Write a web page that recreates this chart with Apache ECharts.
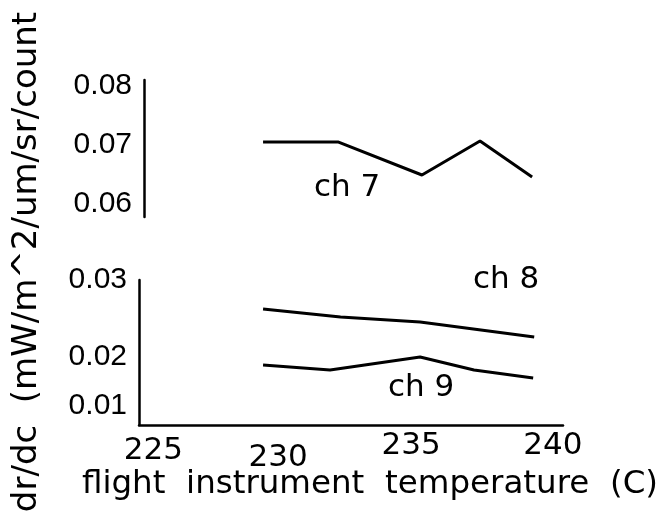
<!DOCTYPE html>
<html>
<head>
<meta charset="utf-8">
<script src="https://cdn.jsdelivr.net/npm/echarts@6/dist/echarts.min.js"></script>
<style>
html, body { margin: 0; padding: 0; background: #fff; }
#chart { width: 661px; height: 518px; }
</style>
</head>
<body>
<div id="chart"></div>
<script>
// temperatures (C) and responsivity per channel
const ch7_temp = [229.04, 231.9, 235.11, 237.33, 239.32];
const ch7_val = [0.0704, 0.0704, 0.0648, 0.07056, 0.06446];
const ch8_temp = [229.04, 232.0, 235.04, 239.4];
const ch8_val = [0.0254, 0.02413, 0.02333, 0.02095];
const ch9_temp = [229.04, 231.6, 235.04, 237.1, 239.36];
const ch9_val = [0.01651, 0.01571, 0.01778, 0.01571, 0.01444];
const xTicks = [225, 230, 235, 240];
const topTicks = [0.06, 0.07, 0.08];
const bottomTicks = [0.01, 0.02, 0.03];
const chLabels = [
	{name: "ch 7", at: [232.25, 0.0626]},
	{name: "ch 8", at: [238.33, 0.02995]},
	{name: "ch 9", at: [235.08, 0.01286]},
];

const black = "#000";
const sans = "Liberation Sans";
const wide = "DejaVu Sans";

// hand-set label nudges of the original plot: [top, right, bottom, left] padding
const xNudge = {225: [5, 8, 0, 0], 230: [12, 20, 0, 0], 235: [0, 16, 0, 0], 240: [0, 0, 0, 6]};

const pairs = (xs, ys) => xs.map((x, i) => [x, ys[i]]);

const lineSeries = (name, data, idx) => ({
	name: name,
	type: "line",
	xAxisIndex: idx,
	yAxisIndex: idx,
	data: data,
	symbol: "none",
	lineStyle: {color: black, width: 3},
	markPoint: {
		symbolSize: 0,
		label: {show: true, color: black, fontFamily: wide, fontSize: 31, formatter: "{b}"},
		data: chLabels.filter(l => l.name === name).map(l => ({name: l.name, coord: l.at})),
	},
});

const xBase = {
	type: "value",
	min: 224.3,
	max: 240.5,
	splitLine: {show: false},
	axisTick: {show: false},
};

const yBase = {
	type: "value",
	splitLine: {show: false},
	axisTick: {show: false},
	axisLine: {show: true, lineStyle: {color: black, width: 2.5}},
};

const xRich = {};
xTicks.forEach(t => {
	xRich["t" + t] = {fontFamily: wide, fontSize: 31, color: black, padding: xNudge[t]};
});

const myChart = echarts.init(document.getElementById("chart"), null, {renderer: "canvas"});
const option = {
	animation: false,
	backgroundColor: "#fff",
	grid: [
		{left: 139, right: 98, top: 80, height: 137},
		{left: 139, right: 98, top: 280, height: 145},
	],
	xAxis: [
		Object.assign({}, xBase, {gridIndex: 0, show: false}),
		Object.assign({}, xBase, {
			gridIndex: 1,
			axisLine: {show: true, lineStyle: {color: black, width: 2.5}},
			axisLabel: {
				customValues: xTicks,
				margin: 5,
				color: black,
				fontFamily: wide,
				fontSize: 31,
				formatter: v => "{t" + v + "|" + v + "}",
				rich: xRich,
			},
		}),
	],
	yAxis: [
		Object.assign({}, yBase, {
			gridIndex: 0,
			min: 0.05768,
			max: 0.0809,
			offset: -5,
			axisLabel: {
				customValues: topTicks,
				margin: 12,
				color: black,
				fontFamily: sans,
				fontSize: 30,
				formatter: v => v.toFixed(2),
			},
		}),
		Object.assign({}, yBase, {
			gridIndex: 1,
			min: 0.006984,
			max: 0.03,
			axisLabel: {
				customValues: bottomTicks,
				margin: 12,
				color: black,
				fontFamily: sans,
				fontSize: 30,
				formatter: v => Math.abs(v - 0.02) < 1e-9 ? "{d|0.02}" : "{n|" + v.toFixed(2) + "}",
				rich: {
					n: {fontFamily: sans, fontSize: 30, color: black},
					d: {fontFamily: sans, fontSize: 30, color: black, padding: [28, 0, 0, 0]},
				},
			},
		}),
	],
	series: [
		lineSeries("ch 7", pairs(ch7_temp, ch7_val), 0),
		lineSeries("ch 8", pairs(ch8_temp, ch8_val), 1),
		lineSeries("ch 9", pairs(ch9_temp, ch9_val), 1),
	],
	graphic: [
		{
			type: "text",
			x: 27,
			y: 262,
			rotation: Math.PI / 2,
			style: {
				text: "dr/dc  (mW/m^2/um/sr/count",
				fill: black,
				font: "34px 'DejaVu Sans'",
				textAlign: "center",
				textVerticalAlign: "middle",
			},
		},
		{
			type: "text",
			x: 370,
			y: 485,
			style: {
				text: "flight  instrument  temperature  (C)",
				fill: black,
				font: "32.5px 'DejaVu Sans'",
				textAlign: "center",
				textVerticalAlign: "middle",
			},
		},
	],
};
myChart.setOption(option);
</script>
</body>
</html>
